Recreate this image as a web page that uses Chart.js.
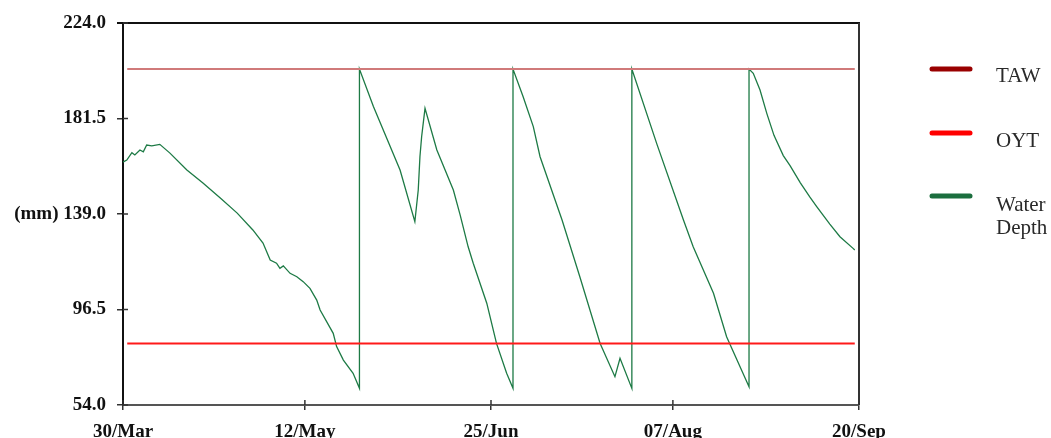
<!DOCTYPE html>
<html>
<head>
<meta charset="utf-8">
<title>Soil water depth</title>
<script src="https://cdn.jsdelivr.net/npm/chart.js@4.4.1/dist/chart.umd.min.js"></script>
<style>
  html, body { margin: 0; padding: 0; background: #ffffff; }
  #wrap { width: 1051px; height: 438px; position: relative; }
</style>
</head>
<body>
<div id="wrap"><canvas id="chart"></canvas></div>
<script>
// Axis ticks: days since 30 March and depth in mm
const dayTicks = [0, 43, 87, 130, 174];
const dayLabels = ['30/Mar', '12/May', '25/Jun', '07/Aug', '20/Sep'];
const mmTicks = [54.0, 96.5, 139.0, 181.5, 224.0];

// Threshold levels (mm), drawn across the season
const lineDays = [1, 173];
const tawLevel = [203.5, 203.5];
const oytLevel = [81.4, 81.4];

// Water depth through the season (day, mm); repeated days are refill jumps
const waterDays = [
  0, 0.9, 2.1, 2.8, 4.0, 4.8, 5.6, 6.8, 8.7, 11.1, 15.1, 18.9, 23.0, 27.0, 30.7, 33.1,
  34.8, 36.3, 37.1, 37.9, 39.5, 41.1, 42.6, 44.2, 45.8, 46.6, 49.7, 50.5, 52.1, 54.4, 55.9,
  55.9, 59.2, 65.5, 69.0, 69.8, 70.2, 70.6, 71.4, 74.2, 78.1, 79.7, 81.6, 82.8, 86.0, 88.3, 90.7, 92.2,
  92.2, 94.6, 97.0, 98.6, 103.8, 108.0, 112.8, 116.3, 117.5, 120.3,
  120.3, 126.2, 132.5, 134.8, 139.6, 142.7, 148.0,
  148.0, 149.0, 150.6, 152.2, 153.9, 156.1, 157.7, 160.1, 162.4, 164.0, 167.1, 169.5, 172.6, 173.0
];
const waterMm = [
  162.1, 163.0, 166.3, 165.3, 167.5, 166.7, 169.7, 169.3, 170.0, 166.1, 158.6, 152.8, 146.1, 139.4, 131.9, 126.1,
  118.5, 117.1, 114.8, 115.9, 112.6, 111.1, 108.9, 105.9, 100.7, 96.3, 85.9, 80.0, 74.0, 68.1, 61.4,
  203.5, 186.8, 158.6, 135.6, 149.7, 164.5, 173.4, 186.0, 167.5, 149.7, 138.6, 124.4, 117.1, 99.3, 81.4, 68.1, 61.4,
  203.5, 191.2, 177.9, 164.5, 136.3, 111.1, 81.4, 66.6, 74.8, 61.4,
  203.5, 170.2, 136.3, 124.4, 103.7, 84.4, 62.1,
  203.5, 201.6, 194.2, 183.8, 174.0, 165.0, 160.5, 153.0, 146.5, 142.3, 134.5, 128.9, 123.7, 123.0
];

const toPoints = (xs, ys) => xs.map((x, i) => ({ x: x, y: ys[i] }));

const serif = 'Liberation Serif, Times New Roman, serif';

// Legend at the right: line sample with (possibly two-line) caption
const sideLegend = {
  id: 'sideLegend',
  afterDraw(chart) {
    const ctx = chart.ctx;
    const a = chart.chartArea;
    const entries = [
      { ds: 0, lines: ['TAW'], lineY: 69, textY: 76 },
      { ds: 1, lines: ['OYT'], lineY: 133, textY: 141 },
      { ds: 2, lines: ['Water', 'Depth'], lineY: 196, textY: 205 }
    ];
    ctx.save();
    entries.forEach(e => {
      const ds = chart.data.datasets[e.ds];
      ctx.strokeStyle = ds.legendColor;
      ctx.lineWidth = 5;
      ctx.lineCap = 'round';
      ctx.beginPath();
      ctx.moveTo(a.right + 73, e.lineY);
      ctx.lineTo(a.right + 111, e.lineY);
      ctx.stroke();
      ctx.fillStyle = '#2a2a2a';
      ctx.font = '21px ' + serif;
      ctx.textBaseline = 'middle';
      ctx.textAlign = 'left';
      e.lines.forEach((t, i) => ctx.fillText(t, a.right + 137, e.textY + i * 23));
    });
    ctx.restore();
  }
};

// Box frame and short tick stubs inside the plot
const frame = {
  id: 'frame',
  afterDraw(chart) {
    const ctx = chart.ctx;
    const a = chart.chartArea;
    const xs = chart.scales.x, ys = chart.scales.y;
    ctx.save();
    ctx.strokeStyle = '#111';
    ctx.lineWidth = 2;
    ctx.beginPath();
    ctx.moveTo(a.left - 6, a.top);
    ctx.lineTo(a.right + 1, a.top);
    ctx.stroke();
    ctx.strokeStyle = '#333';
    ctx.beginPath();
    ctx.moveTo(a.right, a.top);
    ctx.lineTo(a.right, a.bottom);
    ctx.stroke();
    ctx.lineWidth = 1.5;
    ctx.strokeStyle = '#333';
    mmTicks.forEach(v => {
      const y = ys.getPixelForValue(v);
      ctx.beginPath(); ctx.moveTo(a.left, y); ctx.lineTo(a.left + 5, y); ctx.stroke();
    });
    dayTicks.forEach(v => {
      const x = xs.getPixelForValue(v);
      ctx.beginPath(); ctx.moveTo(x, a.bottom); ctx.lineTo(x, a.bottom - 5); ctx.stroke();
    });
    ctx.restore();
  }
};

new Chart(document.getElementById('chart'), {
  type: 'line',
  data: {
    datasets: [
      {
        label: 'TAW',
        data: toPoints(lineDays, tawLevel),
        borderColor: '#d07a7a',
        legendColor: '#990000',
        borderWidth: 2,
        pointRadius: 0
      },
      {
        label: 'OYT',
        data: toPoints(lineDays, oytLevel),
        borderColor: '#ff1a1a',
        legendColor: '#ff0000',
        borderWidth: 2,
        pointRadius: 0
      },
      {
        label: 'Water Depth',
        data: toPoints(waterDays, waterMm),
        borderColor: '#1d7a45',
        legendColor: '#1b6e3e',
        borderWidth: 1.3,
        pointRadius: 0,
        tension: 0
      }
    ]
  },
  options: {
    responsive: true,
    maintainAspectRatio: false,
    animation: false,
    layout: { padding: { top: 23, right: 192, bottom: 0, left: 0 } },
    plugins: {
      legend: { display: false },
      tooltip: { enabled: false }
    },
    scales: {
      x: {
        type: 'linear',
        min: dayTicks[0],
        max: dayTicks[dayTicks.length - 1],
        afterBuildTicks: s => { s.ticks = dayTicks.map(v => ({ value: v })); },
        afterFit: s => { s.height = 33; },
        ticks: {
          autoSkip: false,
          maxRotation: 0,
          padding: 11,
          color: '#111',
          font: { family: serif, size: 19, weight: 'bold' },
          callback: (v, i) => dayLabels[i]
        },
        grid: { drawOnChartArea: false, tickLength: 5, color: '#333', lineWidth: 1.5 },
        border: { color: '#555', width: 2 }
      },
      y: {
        min: mmTicks[0],
        max: mmTicks[mmTicks.length - 1],
        afterBuildTicks: s => { s.ticks = mmTicks.map(v => ({ value: v })); },
        afterFit: s => { s.width = 123; },
        ticks: {
          padding: 11,
          color: '#111',
          font: { family: serif, size: 19, weight: 'bold' },
          callback: (v, i) => (mmTicks[i] === 139 ? '(mm) ' : '') + mmTicks[i].toFixed(1)
        },
        grid: { drawOnChartArea: false, tickLength: 6, color: '#333', lineWidth: 1.5 },
        border: { color: '#111', width: 2 }
      }
    }
  },
  plugins: [sideLegend, frame]
});
</script>
</body>
</html>
